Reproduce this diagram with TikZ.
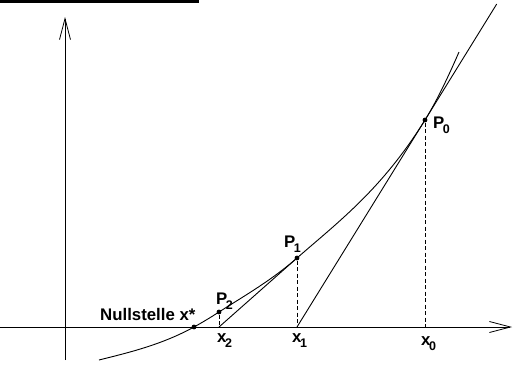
\documentclass[tikz,border=0pt]{standalone}
\usepackage{fontspec}
\setmainfont{Liberation Sans}
\usepackage{tikz}
\usetikzlibrary{calc,arrows.meta}
\newcommand{\idx}[1]{\kern-1.5pt\raisebox{-5.5pt}{\fontsize{12.5}{13}\selectfont #1}}
\tikzset{
  vtx/.style={circle,fill=black,inner sep=0pt,minimum size=4.8pt},
  ax/.style={line width=.8pt,-{Straight Barb[length=21pt,width=11pt,line width=.8pt]}},
  crv/.style={line width=.9pt},
  tang/.style={line width=.9pt},
  drop/.style={line width=.7pt,dash pattern=on 4pt off 2.5pt},
  lbl/.style={font=\fontsize{16.8}{18}\selectfont\bfseries,inner sep=0pt,anchor=base west},
}
\begin{document}
\begin{tikzpicture}[x=1pt,y=-1pt]
  \useasboundingbox (0,0) rectangle (520,365);
  \fill (0,0) rectangle (199,3);
  % axes
  \coordinate (oy) at (65,360);
  \coordinate (ty) at (65,17);
  \coordinate (ox) at (0,327);
  \coordinate (tx) at (512,327);
  \draw[ax] (oy) -- (ty);
  \draw[ax] (ox) -- (tx);
  % points on the axis
  \coordinate (x0) at (425,327);
  \coordinate (x1) at (297,327);
  \coordinate (x2) at (219,327);
  % the curve
  \coordinate (c0) at (99,360);
  \coordinate (c5) at (459,52);
  \draw[crv] (c0) .. controls (130.7,352.1) and (162.3,344.4) .. (194,327)
    .. controls (202.4,322.4) and (210.6,317.4) .. (219,312)
    .. controls (245,295.4) and (271,280.7) .. (297,258)
    .. controls (339.7,220.8) and (382.3,188.7) .. (425,120)
    .. controls (436.3,101.8) and (447.7,78) .. (c5);
  \node[vtx] (xs) at (194,327) {};
  \node[vtx] (P2) at (219,312) {};
  \node[vtx] (P1) at (297,258) {};
  \node[vtx] (P0) at (425,120) {};
  % tangents
  \coordinate (t0) at ($(x1)!1.56!(P0.center)$);
  \draw[tang] (x1) -- (t0);
  \draw[tang] (x2) -- (P1.center);
  % verticals
  \draw[drop] (P0) -- (x0);
  \draw[drop] (P1) -- (x1);
  \draw[drop] (P2) -- (x2);
  % labels
  \node[lbl] (lP0) at (433,128) {P\idx{0}};
  \node[lbl] (lP1) at (284,247) {P\idx{1}};
  \node[lbl] (lP2) at (216,304) {P\idx{2}};
  \node[lbl] (lx0) at (421,345) {x\idx{0}};
  \node[lbl] (lx1) at (292,342) {x\idx{1}};
  \node[lbl] (lx2) at (217,342) {x\idx{2}};
  \node[lbl] (lxs) at (100,320) {Nullstelle x*};
\end{tikzpicture}
\end{document}
